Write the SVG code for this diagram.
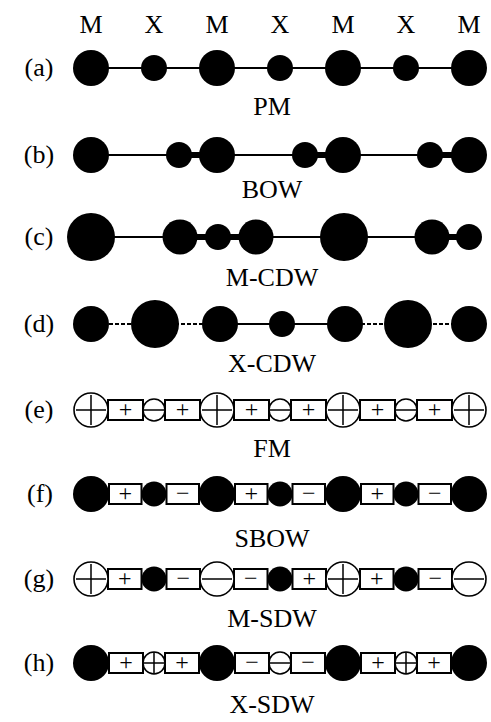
<svg xmlns="http://www.w3.org/2000/svg" width="491" height="722" viewBox="0 0 491 722">
<style>
.t{font-family:"Liberation Serif","Times New Roman",serif;font-size:26px;fill:#000;text-anchor:middle}
.s{font-family:"Liberation Serif","Times New Roman",serif;font-size:24px;fill:#000;text-anchor:middle}
.bk{fill:#000}
.op{fill:#fff;stroke:#000;stroke-width:1.6}
.bx{fill:#fff;stroke:#000;stroke-width:2}
.ln{stroke:#000;stroke-width:2;fill:none}
.th{stroke:#000;stroke-width:6;fill:none}
.ds{stroke:#000;stroke-width:2;stroke-dasharray:4 2;fill:none}
.mk{stroke:#000;stroke-width:1.5;fill:none}
</style>
<rect width="491" height="722" fill="#fff"/>
<g id="header">
<text class="t" x="91" y="33">M</text><text class="t" x="154" y="33">X</text><text class="t" x="217" y="33">M</text><text class="t" x="280" y="33">X</text><text class="t" x="343" y="33">M</text><text class="t" x="406" y="33">X</text><text class="t" x="469" y="33">M</text>
</g>
<g id="row-labels">
<text class="t" x="39" y="76">(a)</text>
<text class="t" x="39" y="163">(b)</text>
<text class="t" x="39" y="245">(c)</text>
<text class="t" x="39" y="332">(d)</text>
<text class="t" x="39" y="418">(e)</text>
<text class="t" x="40" y="502">(f)</text>
<text class="t" x="39" y="587">(g)</text>
<text class="t" x="39" y="671">(h)</text>
<text class="t" x="272" y="115">PM</text>
<text class="t" x="272" y="198">BOW</text>
<text class="t" x="272" y="286">M-CDW</text>
<text class="t" x="272" y="372">X-CDW</text>
<text class="t" x="272" y="457">FM</text>
<text class="t" x="272" y="547">SBOW</text>
<text class="t" x="272" y="627">M-SDW</text>
<text class="t" x="272" y="713">X-SDW</text>
</g>
<g id="connectors">
<line class="ln" x1="91" y1="68" x2="469" y2="68"/>
<line class="ln" x1="91" y1="155" x2="179" y2="155"/><line class="th" x1="179" y1="155" x2="217" y2="155"/>
<line class="ln" x1="217" y1="155" x2="305" y2="155"/><line class="th" x1="305" y1="155" x2="343" y2="155"/>
<line class="ln" x1="343" y1="155" x2="430" y2="155"/><line class="th" x1="430" y1="155" x2="469" y2="155"/>
<line class="ln" x1="91" y1="237" x2="180" y2="237"/><line class="th" x1="180" y1="237" x2="256" y2="237"/>
<line class="ln" x1="256" y1="237" x2="432" y2="237"/><line class="th" x1="432" y1="237" x2="469" y2="237"/>
<line class="ds" x1="91" y1="324" x2="217" y2="324"/><line class="ln" x1="217" y1="324" x2="343" y2="324"/><line class="ds" x1="343" y1="324" x2="469" y2="324"/>
<rect class="bx" x="108" y="400" width="35" height="20"/><rect class="bx" x="165" y="400" width="35" height="20"/><rect class="bx" x="234" y="400" width="35" height="20"/><rect class="bx" x="291" y="400" width="35" height="20"/><rect class="bx" x="360" y="400" width="35" height="20"/><rect class="bx" x="417" y="400" width="35" height="20"/>
<text class="s" x="125.5" y="417">+</text><text class="s" x="182.5" y="417">+</text><text class="s" x="251.5" y="417">+</text><text class="s" x="308.5" y="417">+</text><text class="s" x="377.5" y="417">+</text><text class="s" x="434.5" y="417">+</text>
<rect class="bx" x="109" y="484" width="32.5" height="20"/><rect class="bx" x="166.5" y="484" width="32.5" height="20"/><rect class="bx" x="235" y="484" width="32.5" height="20"/><rect class="bx" x="292.5" y="484" width="32.5" height="20"/><rect class="bx" x="361" y="484" width="32.5" height="20"/><rect class="bx" x="418.5" y="484" width="32.5" height="20"/>
<text class="s" x="125.3" y="501">+</text><text class="s" x="182.8" y="501">−</text><text class="s" x="251.3" y="501">+</text><text class="s" x="308.8" y="501">−</text><text class="s" x="377.3" y="501">+</text><text class="s" x="434.8" y="501">−</text>
<rect class="bx" x="108" y="569" width="33.5" height="20"/><rect class="bx" x="166.5" y="569" width="33.5" height="20"/><rect class="bx" x="234" y="569" width="33.5" height="20"/><rect class="bx" x="292.5" y="569" width="33.5" height="20"/><rect class="bx" x="360" y="569" width="33.5" height="20"/><rect class="bx" x="418.5" y="569" width="33.5" height="20"/>
<text class="s" x="124.8" y="586">+</text><text class="s" x="183.3" y="586">−</text><text class="s" x="250.8" y="586">−</text><text class="s" x="309.3" y="586">+</text><text class="s" x="376.8" y="586">+</text><text class="s" x="435.3" y="586">−</text>
<rect class="bx" x="109" y="653" width="34" height="20"/><rect class="bx" x="165" y="653" width="34" height="20"/><rect class="bx" x="235" y="653" width="34" height="20"/><rect class="bx" x="291" y="653" width="34" height="20"/><rect class="bx" x="361" y="653" width="34" height="20"/><rect class="bx" x="417" y="653" width="34" height="20"/>
<text class="s" x="126" y="670">+</text><text class="s" x="182" y="670">+</text><text class="s" x="252" y="670">−</text><text class="s" x="308" y="670">−</text><text class="s" x="378" y="670">+</text><text class="s" x="434" y="670">+</text>
</g>
<g id="row-a">
<g id="a-M1"><circle class="bk" cx="91" cy="68" r="18"/></g><g id="a-X1"><circle class="bk" cx="154" cy="68" r="13"/></g>
<g id="a-M2"><circle class="bk" cx="217" cy="68" r="18"/></g><g id="a-X2"><circle class="bk" cx="280" cy="68" r="13"/></g>
<g id="a-M3"><circle class="bk" cx="343" cy="68" r="18"/></g><g id="a-X3"><circle class="bk" cx="406" cy="68" r="13"/></g>
<g id="a-M4"><circle class="bk" cx="469" cy="68" r="18"/></g>
</g>
<g id="row-b">
<g id="b-M1"><circle class="bk" cx="91" cy="155" r="18"/></g><g id="b-X1"><circle class="bk" cx="179" cy="155" r="13"/></g>
<g id="b-M2"><circle class="bk" cx="217" cy="155" r="18"/></g><g id="b-X2"><circle class="bk" cx="305" cy="155" r="13"/></g>
<g id="b-M3"><circle class="bk" cx="343" cy="155" r="18"/></g><g id="b-X3"><circle class="bk" cx="430" cy="155" r="13"/></g>
<g id="b-M4"><circle class="bk" cx="469" cy="155" r="18"/></g>
</g>
<g id="row-c">
<g id="c-M1"><circle class="bk" cx="91" cy="237" r="24"/></g><g id="c-X1"><circle class="bk" cx="180" cy="237" r="17.5"/></g>
<g id="c-M2"><circle class="bk" cx="218" cy="237" r="13"/></g><g id="c-X2"><circle class="bk" cx="256" cy="237" r="17.5"/></g>
<g id="c-M3"><circle class="bk" cx="344" cy="237" r="24"/></g><g id="c-X3"><circle class="bk" cx="432" cy="237" r="17.5"/></g>
<g id="c-M4"><circle class="bk" cx="469" cy="237" r="13"/></g>
</g>
<g id="row-d">
<g id="d-M1"><circle class="bk" cx="91" cy="324" r="18"/></g><g id="d-X1"><circle class="bk" cx="155" cy="324" r="24"/></g>
<g id="d-M2"><circle class="bk" cx="220" cy="324" r="18"/></g><g id="d-X2"><circle class="bk" cx="282" cy="324" r="13"/></g>
<g id="d-M3"><circle class="bk" cx="345" cy="324" r="18"/></g><g id="d-X3"><circle class="bk" cx="408" cy="324" r="24"/></g>
<g id="d-M4"><circle class="bk" cx="469" cy="324" r="18"/></g>
</g>
<g id="row-e">
<g id="e-M1"><circle class="op" cx="91" cy="410" r="17"/><path class="mk" d="M76 410H106M91 395V425"/></g>
<g id="e-X1"><circle class="op" cx="154" cy="410" r="11"/><path class="mk" d="M143 410H165"/></g>
<g id="e-M2"><circle class="op" cx="217" cy="410" r="17"/><path class="mk" d="M202 410H232M217 395V425"/></g>
<g id="e-X2"><circle class="op" cx="280" cy="410" r="11"/><path class="mk" d="M269 410H291"/></g>
<g id="e-M3"><circle class="op" cx="343" cy="410" r="17"/><path class="mk" d="M328 410H358M343 395V425"/></g>
<g id="e-X3"><circle class="op" cx="406" cy="410" r="11"/><path class="mk" d="M395 410H417"/></g>
<g id="e-M4"><circle class="op" cx="469" cy="410" r="17"/><path class="mk" d="M454 410H484M469 395V425"/></g>
</g>
<g id="row-f">
<g id="f-M1"><circle class="bk" cx="91" cy="494" r="18"/></g><g id="f-X1"><circle class="bk" cx="154" cy="494" r="12.5"/></g>
<g id="f-M2"><circle class="bk" cx="217" cy="494" r="18"/></g><g id="f-X2"><circle class="bk" cx="280" cy="494" r="12.5"/></g>
<g id="f-M3"><circle class="bk" cx="343" cy="494" r="18"/></g><g id="f-X3"><circle class="bk" cx="406" cy="494" r="12.5"/></g>
<g id="f-M4"><circle class="bk" cx="469" cy="494" r="18"/></g>
</g>
<g id="row-g">
<g id="g-M1"><circle class="op" cx="91" cy="579" r="17"/><path class="mk" d="M76 579H106M91 564V594"/></g>
<g id="g-X1"><circle class="bk" cx="154" cy="579" r="12.5"/></g>
<g id="g-M2"><circle class="op" cx="217" cy="579" r="17"/><path class="mk" d="M202 579H232"/></g>
<g id="g-X2"><circle class="bk" cx="280" cy="579" r="12.5"/></g>
<g id="g-M3"><circle class="op" cx="343" cy="579" r="17"/><path class="mk" d="M328 579H358M343 564V594"/></g>
<g id="g-X3"><circle class="bk" cx="406" cy="579" r="12.5"/></g>
<g id="g-M4"><circle class="op" cx="469" cy="579" r="17"/><path class="mk" d="M454 579H484"/></g>
</g>
<g id="row-h">
<g id="h-M1"><circle class="bk" cx="91" cy="663" r="18"/></g>
<g id="h-X1"><circle class="op" cx="154" cy="663" r="11"/><path class="mk" d="M143 663H165M154 652V674"/></g>
<g id="h-M2"><circle class="bk" cx="217" cy="663" r="18"/></g>
<g id="h-X2"><circle class="op" cx="280" cy="663" r="11"/><path class="mk" d="M269 663H291"/></g>
<g id="h-M3"><circle class="bk" cx="343" cy="663" r="18"/></g>
<g id="h-X3"><circle class="op" cx="406" cy="663" r="11"/><path class="mk" d="M395 663H417M406 652V674"/></g>
<g id="h-M4"><circle class="bk" cx="469" cy="663" r="18"/></g>
</g>
</svg>
